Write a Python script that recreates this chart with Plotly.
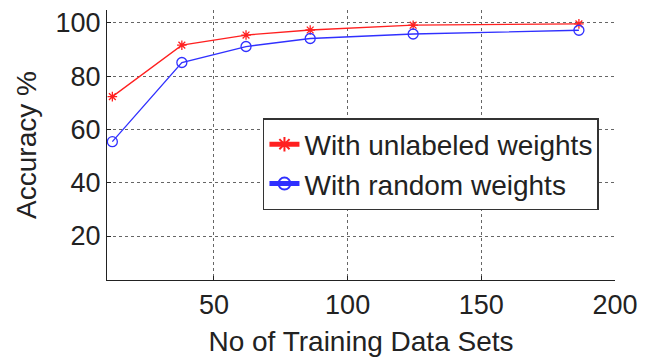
import plotly.graph_objects as go

x_vals = [12, 38, 62, 86, 124.5, 186.5]
unlabeled = [72.3, 91.6, 95.4, 97.3, 99.1, 99.6]
random_w = [55.4, 85.1, 91.1, 94.1, 95.8, 97.2]
x_ticks = [50, 100, 150, 200]
y_ticks = [20, 40, 60, 80, 100]

font_family = "Liberation Sans, Arial, sans-serif"

fig = go.Figure()
fig.add_trace(go.Scatter(
    x=x_vals, y=unlabeled, mode="lines+markers", name="With unlabeled weights",
    line=dict(color="#ff2020", width=1.3),
    marker=dict(symbol="asterisk-open", size=8, color="#ff2020", line=dict(color="#ff2020", width=1.3)),
))
fig.add_trace(go.Scatter(
    x=x_vals, y=random_w, mode="lines+markers", name="With random weights",
    line=dict(color="#3030ff", width=1.3),
    marker=dict(symbol="circle-open", size=10, color="#3030ff", line=dict(color="#3030ff", width=1.3)),
))

# page body has an 8px default margin, so the figure is offset by (8, 8)
fig.update_layout(
    width=639, height=349,
    margin=dict(l=99, r=32, t=2, b=77),
    paper_bgcolor="white", plot_bgcolor="white",
    font=dict(family=font_family, size=28, color="#222222"),
    showlegend=True,
    legend=dict(
        x=0.307, y=0.6, xanchor="left", yanchor="top",
        bgcolor="white", bordercolor="#333333", borderwidth=1.5,
        font=dict(size=28, color="#222222"),
        itemsizing="constant", tracegroupgap=0,
    ),
)
fig.update_xaxes(
    range=[10, 200], tickvals=x_ticks, ticktext=[str(v) for v in x_ticks],
    showline=True, linecolor="#222222", linewidth=1.2, mirror=False,
    showgrid=True, gridcolor="#666666", griddash="dot", gridwidth=1,
    ticks="inside", ticklen=4, tickcolor="#222222",
    tickfont=dict(size=27),
    zeroline=False, automargin=False,
    title=dict(text="No of Training Data Sets", font=dict(size=28), standoff=12),
)
fig.update_yaxes(
    range=[3.5, 104.8], tickvals=y_ticks, ticktext=[str(v) for v in y_ticks],
    showline=True, linecolor="#222222", linewidth=1.2, mirror=False,
    showgrid=True, gridcolor="#666666", griddash="dot", gridwidth=1,
    ticks="inside", ticklen=4, tickcolor="#222222",
    tickfont=dict(size=27),
    zeroline=False, automargin=False,
    title=dict(text="Accuracy %", font=dict(size=28), standoff=10),
)

fig.write_html("out.html")
